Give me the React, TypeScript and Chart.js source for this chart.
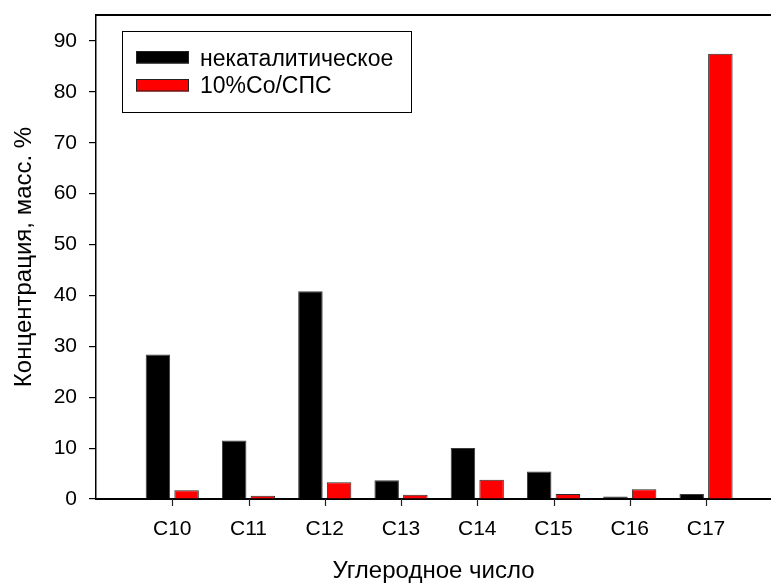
import React, { useEffect, useRef } from 'react';
import { Chart, registerables } from 'chart.js';

Chart.register(...registerables);

const categories = ['C10', 'C11', 'C12', 'C13', 'C14', 'C15', 'C16', 'C17'];
const nonCatalytic = [28.4, 11.5, 40.8, 3.7, 10.0, 5.4, 0.5, 1.0];
const coSps = [1.7, 0.65, 3.3, 0.85, 3.8, 1.0, 1.9, 87.5];
const yTickValues = [0, 10, 20, 30, 40, 50, 60, 70, 80, 90];
const seriesLabels = ['некаталитическое', '10%Co/СПС'];
const xTitle = 'Углеродное число';
const yTitle = 'Концентрация, масс. %';

const FONT = '"Liberation Sans", Arial, sans-serif';

const framePlugin = {
  id: 'frameAndLegend',
  afterDraw(chart: any) {
    const { ctx, chartArea } = chart;
    ctx.save();
    // top frame line
    ctx.strokeStyle = '#000';
    ctx.lineWidth = 2;
    ctx.beginPath();
    ctx.moveTo(chartArea.left, chartArea.top);
    ctx.lineTo(chartArea.right, chartArea.top);
    ctx.stroke();

    // x tick marks (outward)
    const xs = chart.scales.x;
    ctx.lineWidth = 1.2;
    ctx.strokeStyle = '#222';
    xs.ticks.forEach((t: any) => {
      const px = Math.round(xs.getPixelForValue(t.value)) + 0.5;
      ctx.beginPath();
      ctx.moveTo(px, chartArea.bottom);
      ctx.lineTo(px, chartArea.bottom + 7);
      ctx.stroke();
    });

    // legend box
    ctx.lineWidth = 1;
    ctx.strokeStyle = '#000';
    ctx.fillStyle = '#fff';
    ctx.fillRect(122.5, 31.5, 289, 81);
    ctx.strokeRect(122.5, 31.5, 289, 81);

    const rows = [
      { swatchY: 51, baseline: 65.7 },
      { swatchY: 79, baseline: 93.3 },
    ];
    chart.data.datasets.forEach((ds: any, i: number) => {
      const r = rows[i];
      ctx.fillStyle = ds.backgroundColor;
      ctx.fillRect(136, r.swatchY, 53, 12.5);
      ctx.strokeStyle = '#222';
      ctx.lineWidth = 1;
      ctx.strokeRect(136.5, r.swatchY + 0.5, 52, 11.5);
      ctx.fillStyle = '#000';
      ctx.font = `23px ${FONT}`;
      ctx.textBaseline = 'alphabetic';
      ctx.textAlign = 'left';
      ctx.fillText(ds.label, 200, r.baseline);
    });
    ctx.restore();
  },
};

export default function App() {
  const canvasRef = useRef<HTMLCanvasElement | null>(null);

  useEffect(() => {
    document.body.style.margin = '0';
    const canvas = canvasRef.current;
    if (!canvas) return;
    const chart = new Chart(canvas, {
      type: 'bar',
      data: {
        datasets: [
          {
            label: seriesLabels[0],
            data: nonCatalytic.map((v, i) => ({ x: i + 1, y: v })),
            backgroundColor: '#000000',
            borderColor: '#3a3a3a',
            borderWidth: 1,
            categoryPercentage: 0.752,
            barPercentage: 0.854,
          },
          {
            label: seriesLabels[1],
            data: coSps.map((v, i) => ({ x: i + 1, y: v })),
            backgroundColor: '#ff0000',
            borderColor: '#2a2a2a',
            borderWidth: 1,
            categoryPercentage: 0.752,
            barPercentage: 0.854,
          },
        ],
      },
      options: {
        responsive: false,
        animation: false,
        layout: { padding: { top: 15, right: 0, bottom: 0, left: 0 } },
        plugins: {
          legend: { display: false },
          tooltip: { enabled: false },
        },
        scales: {
          x: {
            type: 'linear',
            min: 0,
            max: 8.852,
            offset: false,
            afterBuildTicks: (scale: any) => {
              scale.ticks = categories.map((_, i) => ({ value: i + 1 }));
            },
            afterFit: (scale: any) => {
              scale.height = 84;
              scale.paddingLeft = 0;
              scale.paddingRight = 0;
            },
            ticks: {
              autoSkip: false,
              maxRotation: 0,
              padding: 11,
              color: '#000',
              font: { family: FONT, size: 21 },
              callback: (v: any) => categories[Math.round(Number(v)) - 1] ?? '',
            },
            grid: {
              display: false,
              offset: false,
              drawOnChartArea: false,
              drawTicks: true,
              tickLength: 7,
              color: '#000',
              lineWidth: 1.2,
            },
            border: { display: true, color: '#000', width: 2 },
            title: {
              display: true,
              text: xTitle,
              color: '#000',
              font: { family: FONT, size: 24, lineHeight: 1 },
              padding: { top: 0, bottom: 0 },
            },
          },
          y: {
            type: 'linear',
            min: 0,
            max: 95.1,
            afterBuildTicks: (scale: any) => {
              scale.ticks = yTickValues.map((v) => ({ value: v }));
            },
            afterFit: (scale: any) => {
              scale.width = 96;
              scale.paddingTop = 0;
              scale.paddingBottom = 0;
            },
            ticks: {
              padding: 12,
              color: '#000',
              font: { family: FONT, size: 21 },
            },
            grid: {
              display: true,
              drawOnChartArea: false,
              drawTicks: true,
              tickLength: 7,
              color: '#000',
              lineWidth: 1.2,
            },
            border: { display: true, color: '#000', width: 1.5 },
            title: {
              display: true,
              text: yTitle,
              color: '#000',
              font: { family: FONT, size: 24, lineHeight: 1 },
              padding: { top: 12, bottom: 0 },
            },
          },
        },
      },
      plugins: [framePlugin],
    });
    return () => chart.destroy();
  }, []);

  return (
    <div style={{ position: 'absolute', left: 0, top: 0, width: 771, height: 583 }}>
      <canvas ref={canvasRef} width={771} height={583} style={{ display: 'block' }} />
    </div>
  );
}
